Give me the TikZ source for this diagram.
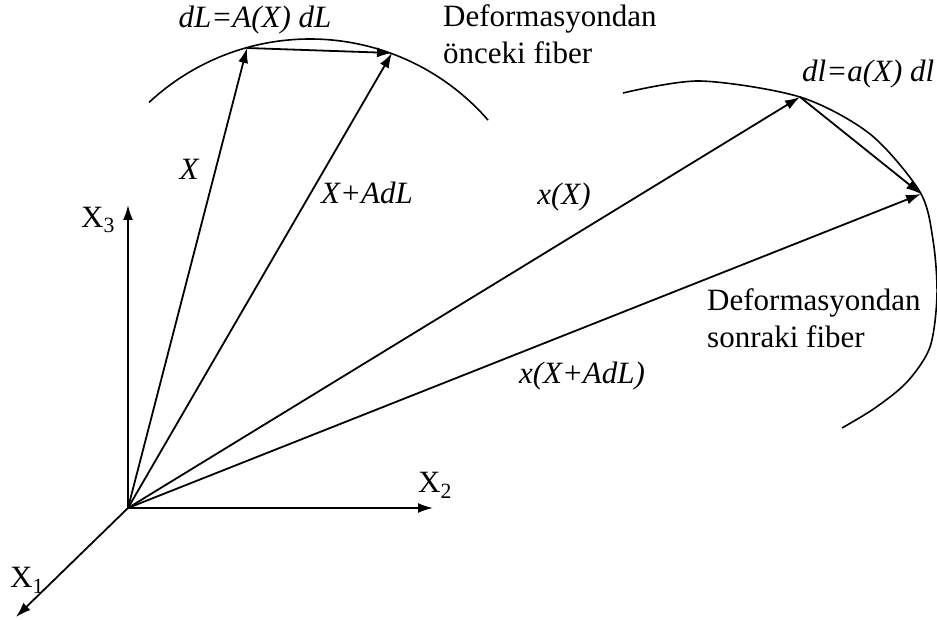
\documentclass[tikz,border=0pt]{standalone}
\usepackage{fontspec}
\setmainfont{Liberation Serif}
\usepackage{tikz}
\usetikzlibrary{arrows.meta, positioning, calc}

\begin{document}
\begin{tikzpicture}[
        x=1pt, y=-1pt,
        % Styles globaux
        base/.style={inner sep=0pt, font=\fontsize{31}{37}\selectfont},
        % Etiquettes des vecteurs (italique)
        lbl_vec/.style={base, font=\fontsize{31}{37}\selectfont\itshape},
        % Etiquettes des fibres
        lbl_fiber/.style={base, align=left, anchor=west},
        % Style des fleches
        arrow/.style={-{Latex[length=15pt, width=10pt]}, line width=1.8pt},
        fiber/.style={line width=1.6pt}
    ]
    \useasboundingbox (0,0) rectangle (937,620);

    % --- POINTS ---
    \coordinate (O) at (128,508);
    \coordinate (tX3) at (128,205);
    \coordinate (tX2) at (433,508);
    \coordinate (tX1) at (16,617);
    \coordinate (P) at (247,48);
    \coordinate (Q) at (392,53);
    \coordinate (p) at (800,97);
    \coordinate (q) at (921,194);

    % --- EKSENLER ---
    \draw[arrow] (O) -- (tX3);
    \draw[arrow] (O) -- (tX2);
    \draw[arrow] (O) -- (tX1);
    \node[base] (lX3) at (98,220) {X\textsubscript{3}};
    \node[base] (lX2) at (435,485) {X\textsubscript{2}};
    \node[base] (lX1) at (27,580) {X\textsubscript{1}};

    % --- FIBRES ---
    \draw[fiber] (310,275) ++(-133:236) arc[start angle=-133, end angle=-41, radius=236];
    \draw[fiber] plot[smooth] coordinates {(623,93) (700,81) (800,97) (870,134)
        (920,192) (933,240) (937,295) (930,347) (907,382) (875,408) (842,428)};

    % --- VECTEURS ---
    \draw[arrow] (O) -- (P);
    \draw[arrow] (O) -- (Q);
    \draw[arrow] (P) -- (Q);
    \draw[arrow] (O) -- (p);
    \draw[arrow] (O) -- (q);
    \draw[arrow] (p) -- (q);

    % --- ETIQUETTES ---
    \node[lbl_vec] (lX) at (189,169) {X};
    \node[lbl_vec] (lXA) at (367,193) {X+AdL};
    \node[lbl_vec] (lx) at (564,197) {x(X)};
    \node[lbl_vec] (lxA) at (582,376) {x(X+AdL)};
    \node[lbl_vec] (ldL) at (255,20) {dL=A(X) dL};
    \node[lbl_vec, anchor=west] (ldl) at (802,74) {dl=a(X) dl};
    \node[lbl_fiber] (f1) at (443,34) {Deformasyondan\\önceki fiber};
    \node[lbl_fiber] (f2) at (707,318) {Deformasyondan\\sonraki fiber};

\end{tikzpicture}
\end{document}
